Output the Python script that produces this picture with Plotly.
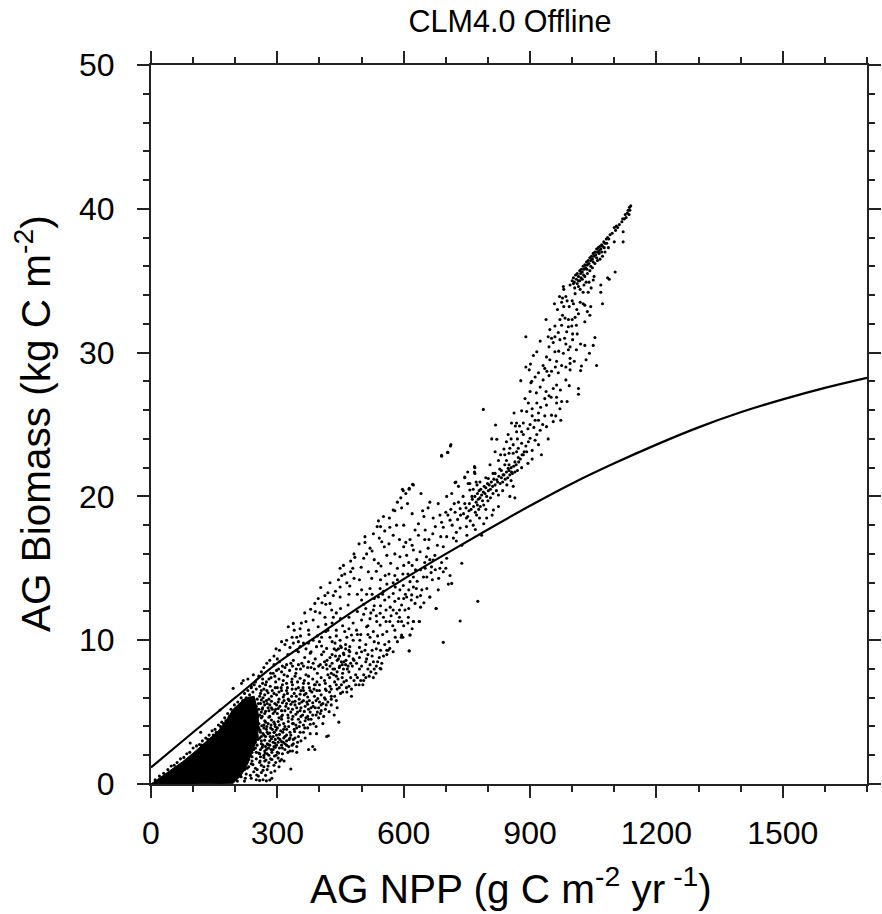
import plotly.graph_objects as go

title_text = "CLM4.0 Offline"
x_title = "AG NPP (g C m<sup>-2</sup> yr<sup> -1</sup>)"
y_title = "AG Biomass (kg C m<sup>-2</sup>)"
x_ticks = [0, 300, 600, 900, 1200, 1500]
y_ticks = [0, 10, 20, 30, 40, 50]

fit_npp = [0, 100, 200, 300, 400, 500, 600, 700, 800, 900, 1000, 1100, 1200, 1300, 1400, 1500, 1600, 1700]
fit_biomass = [1.15, 3.6, 6.0, 8.4, 10.4, 12.4, 14.25, 16.0, 17.7, 19.35, 20.9, 22.3, 23.6, 24.8, 25.85, 26.75, 27.55, 28.25]

# saturated (solid black) part of the cloud near the origin
core_npp = [0, 25, 50, 75, 100, 130, 160, 180, 195, 225, 245, 254, 256, 250, 240, 228, 214, 195, 100, 0]
core_biomass = [0, 0.5, 1.05, 1.55, 2.15, 2.9, 3.7, 4.5, 5.2, 6.0, 6.1, 5.0, 3.9, 3.0, 2.2, 1.3, 0.6, 0.05, 0, 0]

ridge = [(1000,35.0),(1003,35.2),(1005,34.9),(1008,35.4),(1010,35.1),(1012,35.5),(1015,35.3),(1018,35.7),(1020,35.5),(1022,35.8),(1024,35.6),(1026,36.0),(1028,35.8),(1030,36.1),(1032,35.9),(1034,36.3),(1036,36.1),(1038,36.4),(1040,36.2),(1042,36.6),(1044,36.4),(1046,36.7),(1048,36.5),(1050,36.9),(1052,36.7),(1054,37.0),(1056,36.8),(1058,37.2),(1060,37.0),(1062,37.3),(1064,37.1),(1066,37.4),(1068,37.2),(1070,37.5),(1072,37.4),(1075,37.7),(1078,37.6),(1081,37.9),(1084,38.0),(1087,37.9),(1090,38.2),(1095,38.3),(1100,38.7),(1103,38.5),(1105,38.8),(1108,38.7),(1112,38.9),(1118,39.1),(1120,39.3),(1124,39.3),(1126,39.6),(1128,39.4),(1131,39.7),(1133,39.9),(1136,40.1),(1139,40.2),(1137,39.9),(1135,39.6)]

ridge_below = [(1006,34.5),(1012,34.8),(1018,35.0),(1024,35.1),(1030,35.3),(1036,35.5),(1042,35.7),(1048,35.9),(1054,36.2),(1060,36.4),(1066,36.5),(1072,36.7),(1078,37.0),(1086,37.3),(1100,37.7),(1121,37.7),(1121,38.4),(1102,35.6),(1084,35.2),(1088,35.1),(1045,34.5),(1040,34.9),(1052,35.3),(1028,34.7),(1033,34.9),(1015,35.0),(1021,35.2),(1027,35.4),(1035,35.8),(1044,36.0),(1050,36.3),(1058,36.6),(1064,36.9),(1070,37.0),(1076,37.3),(1082,37.6)]

tail = [(979,34.6),(980,34.4),(995,34.7),(1003,34.8),(1015,34.6),(1019,34.4),(1026,34.2),(1038,34.2),(1050,35.05),(1068,34.7),(1068,34.2),(1072,33.4),(977,33.8),(975,33.5),(985,33.9),(958,33.4),(965,33.0),(980,33.2),(993,33.2),(1011,33.0),(1019,33.5),(1026,33.4),(1030,33.3),(1044,33.2),(1036,32.85),(1042,32.6),(977,32.6),(983,32.4),(971,32.3),(991,32.3),(1007,32.45),(938,32.3),(1030,32.15),(999,31.85),(991,31.8),(959,31.85),(947,31.6),(967,31.4),(987,31.45),(1001,31.3),(1012,31.3),(943,31.1),(951,31.0),(959,31.1),(971,30.9),(890,31.1),(924,30.8),(1001,30.9),(1054,31.05),(1020,30.6),(1030,30.5),(1050,30.5),(995,30.4),(991,30.2),(916,30.06),(908,29.8),(959,30.06),(979,29.95),(1041,29.95),(939,29.7),(947,29.5),(963,29.4),(1033,29.5),(995,29.6),(890,29.0),(901,29.2),(931,29.1),(975,29.1),(995,29.25),(1058,29.1),(1022,29.07),(898,28.8),(920,28.6),(935,28.9),(951,28.7),(995,28.8),(1020,28.75),(878,28.05),(904,28.0),(931,28.1),(963,27.75),(993,27.7),(1015,27.5),(1015,27.1),(900,27.3),(924,27.6),(938,27.3),(955,27.5),(888,26.8),(935,26.8),(963,26.9),(988,26.6),(896,26.5),(916,26.5),(939,26.35),(963,26.5),(971,26.1),(789,26.05),(880,25.95),(862,25.8),(892,25.9),(920,25.8),(951,25.65),(961,25.6),(884,25.1),(856,25.1),(868,25.1),(920,25.3),(973,25.3),(818,24.97),(909,24.8),(924,24.6),(939,24.85),(809,24.0),(821,23.97),(848,24.3),(868,24.5),(884,24.3),(916,24.3),(943,24.0),(900,24.04),(844,23.8),(860,23.6),(880,23.7),(896,23.8),(920,23.6),(852,23.35),(872,23.35),(892,23.1),(927,22.9),(711,23.5),(705,23.06),(690,22.85),(817,23.1),(840,22.9),(860,23.0),(884,22.9),(825,22.5),(844,22.5),(864,22.4),(880,22.0),(768,22.07),(768,21.7),(752,21.7),(805,22.2),(832,21.8),(848,21.95),(817,21.6),(836,21.5),(856,21.7),(745,21.3),(781,21.0),(801,21.25),(821,21.15),(722,20.96),(730,20.7),(757,20.9),(623,20.8),(613,20.56),(597,20.5),
(902,27.9),(912,28.3),(945,28.4),(967,28.6),(985,29.0),(1005,29.4),(912,25.3),(935,25.6),(905,26.1),(925,26.2),(950,26.9),(972,27.4),(985,28.1),(945,30.4),(968,30.1),(982,31.0),(1010,31.9),(1000,33.6),(1007,34.1),(870,24.0),(905,23.2),(875,24.9),(895,24.7),(912,23.9),(838,23.3),(830,22.9),(850,22.2),(872,22.7),(895,22.3),
(970,33.9),(988,33.6),(1003,33.4),(1015,32.7),(1000,32.3),(975,31.9),(955,30.7),(985,30.6),(1010,30.2),(940,28.7),(960,29.0),(915,27.2),(945,27.0),(975,26.6),(905,25.6),(930,25.0),(955,25.2),(865,24.9),(880,24.5),(900,25.0),(855,24.0),(890,23.5),(868,23.1),(905,22.6),(850,23.0)]

band_800 = [(742,18.8),(748,19.2),(752,18.6),(756,19.5),(760,19.1),(763,19.8),(766,19.3),(769,20.0),(772,19.6),(775,20.2),(777,19.8),(779,20.4),(781,19.9),(783,20.5),(785,20.1),(787,19.7),(789,20.3),(791,20.7),(793,20.2),(795,20.6),(797,20.0),(799,20.9),(801,20.4),(803,20.8),(806,20.5),(808,21.0),(811,20.7),(814,21.2),(817,20.8),(820,20.4),(823,21.0),(826,21.4),(829,20.9),(832,21.3),(835,21.0),(838,21.5),(841,21.2),(844,21.7),(847,21.3),(850,21.8),(852,21.5),(855,22.0),(858,21.6),(861,22.1),(864,21.7),(867,22.2),(870,21.8),(873,22.4),(877,22.6),(881,22.9),(886,23.1),(770,18.9),(778,19.1),(790,19.4),(758,18.3),(780,18.5),(800,19.7),
(765,20.5),(774,20.8),(782,19.3),(795,19.1),(806,19.9),(812,20.2),(825,20.1),(835,20.4),(845,20.8),(855,21.1),(860,20.7),(840,22.2),(828,21.9),(812,21.6),(795,21.3),(772,21.0)]

above_line = [(712,23.6),(704,23.06),(690,22.8),(621,20.84),(613,20.5),(599,20.4),(605,20.2),(593,19.9),(585,19.6),(609,19.5),(595,19.2),(575,19.05),(579,19.0),(641,20.2),(552,18.6),(566,18.5),(540,18.3),(537,17.9),(545,17.9),(567,17.85),(583,18.0),(528,17.4),(542,17.1),(548,16.85),(565,16.7),(554,16.5),(508,17.2),(494,16.7),(508,16.8),(520,16.4),(512,16.0),(482,16.0),(484,15.76),(474,15.5),(540,15.35),(546,15.16),(569,15.35),(579,16.0),(591,15.8),(449,15.0),(457,15.2),(479,15.0),(499,15.07),(516,14.76),(474,14.76),(453,14.5),(482,14.3),(524,14.3),(556,14.5),(579,14.5),(403,13.67),(425,14.0),(445,14.2),(449,13.7),(472,13.77),(500,13.5),(520,13.6),(544,13.6),(397,12.9),(413,13.1),(433,13.1),(449,13.0),(468,12.45),(500,12.8),(389,12.56),(379,12.15),(401,11.9),(425,12.56),(429,12.1),(450,12.2),(338,11.17),(326,10.94),(368,11.3),(385,11.4),(413,11.6),(433,11.6),(397,10.94),(354,10.8),(374,10.7),(322,10.0),(346,10.2),(310,9.9),
(627,17.66),(635,18.1),(651,17.66),(635,17.3),(669,17.4),(648,18.6),(662,19.6),(658,19.2),(682,19.5),(702,20.0),(714,20.2),(724,21.0),(745,21.35),(753,20.9),(769,22.0),(769,21.6),(670,18.5),(686,18.7),(694,17.85),(710,18.35),(722,18.9),(734,19.15),(745,19.5),(757,20.45),(734,17.8),(749,17.9),(773,18.7),(797,18.5),(702,17.2),(718,17.1),(738,16.6),(785,17.3),(813,19.05),(852,20.0),(864,19.9),(749,18.5),
(715,18.0),(728,18.4),(741,20.0),(762,20.0),(730,19.6),(700,18.9),(725,17.5),(765,18.0),(688,17.2),(600,16.5),(615,17.0),(590,17.0),(612,15.4),(660,17.0),(680,16.6),(530,15.6),(560,15.9),(495,14.2),(535,14.8),(465,14.0),(438,13.4),(415,12.5),(365,11.9),(440,11.9),(490,13.2),(512,13.2),(350,9.9),(335,10.2),(305,9.3),(292,8.9),(275,8.4),(262,7.8),(248,7.1),(238,6.8),
(93,2.85),(118,3.6),(164,5.15),(195,6.65),(219,7.2),(215,7.0),(243,7.6),(230,7.3),(256,7.5),(268,8.1),(282,8.6),(297,9.4),(318,9.7),(340,10.7),(357,11.2),(390,12.0),(406,12.6),(420,13.3),(460,14.6),(470,13.2),(505,15.7),(525,16.2),(555,17.6),(575,17.3),(600,18.0),(620,18.8),(645,19.0),
(690,18.2),(705,18.7),(735,18.7),(755,19.0),(775,19.4),(720,19.5),(675,17.9),(650,17.0),(620,16.6),(605,16.8),(725,16.9),(750,17.3),(770,17.7),(790,18.1),(810,18.7),(825,19.3),(712,19.1)]

near_line = [(623,16.27),(639,16.15),(658,16.4),(674,15.9),(694,16.5),(702,15.7),(607,15.9),(631,15.6),(654,15.8),(670,15.57),(686,15.0),(651,15.0),(666,15.1),(694,14.76),(710,14.5),(714,13.95),(706,13.9),(738,15.35),(682,13.5),(662,13.0),(677,12.2),(623,14.4),(647,14.4),(615,14.07),(599,13.8),(623,13.7),(643,13.5),(619,13.15),(627,12.56),(607,13.0),(591,13.5),(575,13.25),(579,12.7),(595,12.45),(603,12.1),(575,12.1),(583,11.87),(623,11.3),(637,11.3),(611,11.6),(587,11.3),(567,11.3),(560,10.6),(594,10.2),(615,10.36),(579,10.7),(567,9.43),(613,9.27),(694,9.85),(734,11.33),(776,12.7),
(544,11.87),(528,12.1),(552,11.6),(536,11.3),(520,11.5),(544,11.05),(512,10.94),(528,10.6),(488,10.7),(476,10.36),(496,10.0),(465,10.2),(449,10.0),(425,10.2),(437,9.8),(472,9.55),(520,10.2),(540,9.8),(560,9.3),(508,9.3),(488,9.1),(457,9.1),(417,9.43),(393,9.55),(354,9.55),(374,9.8),
(640,14.9),(610,14.6),(585,14.2),(560,13.9),(540,13.0),(555,12.8),(530,12.4),(510,12.2),(490,12.0),(470,11.6),(455,11.0),(480,11.2),(500,11.4),(440,10.7),(415,10.6),(395,10.3),(375,10.4),(355,10.3),(600,15.2),(585,15.0),(565,14.6),(545,14.2),(525,13.2),(505,12.5),(630,13.6),(655,14.4),(600,12.9),(610,11.2),(590,12.1),(570,11.7),(550,10.4),(530,9.9),(510,9.7),(600,11.0),(632,13.0),(648,12.6),
(662,15.6),(675,14.9),(690,15.4),(700,15.0),(668,14.2),(655,13.6),(640,12.3),(628,14.9),(612,13.5),(598,14.6),(580,13.7),(565,13.0),(552,13.4),(568,12.3),(588,12.9),(612,12.2),(574,11.0),(558,11.3),(538,10.3),(515,11.0),(498,10.4),(505,11.8),(522,11.9),(545,12.4),(480,10.0),(462,9.7),(445,9.4),(430,9.9),(410,9.2),(400,9.9),(385,10.0),(368,9.4),(345,9.3),(330,9.5),(430,11.2),(450,11.5),(470,10.8),(415,11.1),(405,10.2),
(632,14.1),(604,13.2),(618,12.8),(590,11.6),(558,12.1),(535,11.7),(515,10.4),(490,10.4),(460,10.6),(440,10.3),(420,10.7),(435,9.4),(405,9.6),(380,9.2),(362,9.8),(338,9.8),(595,11.3),(580,10.2),(555,9.7),(535,9.4),(515,9.0),(495,9.5),(470,9.3),(450,9.6),(620,10.8),(640,13.1),(665,14.7),(683,14.3),(650,15.4),(620,15.2),(575,14.0),(550,13.2),(530,12.9)]

lower_edge = [(613,9.25),(677,12.2),(662,13.0),(637,11.3),(623,11.3),(615,10.36),(598,10.2),(595,10.36),(563,9.3),(544,8.05),(528,7.4),(503,6.9),(476,6.1),(446,4.3),(435,4.8),(423,5.03),(417,3.3),(421,3.36),(393,3.5),(389,2.4),(374,2.4),(384,2.6),(346,2.2),(330,2.3),(306,1.6),(322,2.7),(297,2.0),(332,1.04),(287,0.4),(251,0.63),(273,1.67)]

mid_band = [(300,8.7),(312,8.2),(325,9.0),(338,8.6),(350,9.2),(365,8.8),(378,9.1),(390,8.7),(405,9.0),(418,8.6),(430,9.0),(445,8.7),(458,8.5),(470,8.9),(482,8.6),(495,8.8),(510,8.5),(525,8.9),(538,8.5),(552,8.9),
(290,7.7),(303,8.0),(316,7.6),(329,7.9),(342,7.5),(355,8.0),(368,7.6),(380,8.1),(395,7.7),(408,8.1),(420,7.6),(432,8.0),(440,7.5),(448,8.2),(455,7.7),(462,8.3),(470,7.8),(478,8.2),(486,7.6),(495,8.0),(505,7.6),(515,8.0),(530,8.0),(280,7.3),
(283,6.8),(296,7.1),(309,6.7),(322,7.0),(335,6.6),(348,7.1),(361,6.7),(374,7.0),(387,6.6),(400,6.9),(412,7.2),(425,6.8),(436,7.1),(447,6.7),(458,7.1),(470,6.8),(482,7.2),(494,6.9),
(270,6.2),(280,5.9),(292,6.3),(304,5.9),(316,6.2),(328,5.8),(340,6.3),(352,5.9),(364,6.2),(376,5.8),(388,6.1),(400,5.7),(412,6.0),(424,6.4),(436,6.1),(450,6.3),(465,6.4),
(265,5.3),(276,5.6),(288,5.2),(298,5.5),(310,5.1),(320,5.4),(332,5.0),(342,5.5),(354,5.1),(366,5.4),(378,5.0),(390,5.3),(402,4.9),(414,5.2),(428,5.5),(442,5.3),
(262,4.6),(272,4.3),(282,4.7),(292,4.3),(304,4.6),(315,4.2),(326,4.6),(338,4.2),(350,4.5),(362,4.1),(374,4.5),(386,4.2),(398,4.6),(408,4.2),
(260,3.6),(268,3.9),(278,3.5),(288,3.8),(298,3.4),(308,3.7),(318,3.3),(330,3.6),(342,3.2),(354,3.6),(366,3.2),(378,3.5),
(252,2.7),(262,3.0),(272,2.6),(282,3.0),(292,2.6),(302,2.9),(312,2.5),(322,3.0),(335,2.7),(348,2.9),
(240,1.9),(250,2.2),(260,1.9),(270,2.3),(280,2.0),(290,2.4),(300,2.2),(312,2.1),
(228,1.1),(238,1.4),(248,1.1),(258,1.5),(268,1.2),(280,1.5),(292,1.3),(214,0.5),(226,0.7),(238,0.4),(250,0.3),(262,0.8),(272,0.6),(205,0.2),(222,0.2)]

clusters = [(430,8.4),(436,8.0),(442,8.6),(447,8.1),(452,8.5),(457,8.0),(463,8.6),(468,8.2),(474,8.4),(480,8.7),(448,8.9),(438,8.9),(458,9.0),(425,8.2),(418,8.0),(472,9.2),(462,9.4),(452,9.5),(440,9.3),
(262,6.5),(272,6.9),(285,7.4),(268,5.7),(258,6.1),(275,6.5),(288,6.5),(298,6.2),(310,6.5),(322,6.5),(335,7.3),(345,6.1),(356,6.5),(368,6.3),(378,6.5),(390,6.9),
(300,4.9),(312,4.8),(325,4.8),(337,4.7),(348,5.0),(360,4.8),(372,4.7),(384,4.8),(395,5.0),(270,4.9),(280,5.1),(290,4.9),(262,5.0),(268,3.4),(275,4.0),(285,4.1),(295,4.0),(305,4.1),(315,3.8),(327,4.0),(340,3.8),(352,4.0),(365,3.9),
(260,2.4),(268,2.0),(276,2.8),(285,2.4),(295,3.1),(305,2.5),(315,3.2),(325,2.2),(338,3.1),(262,3.3),(272,3.3),(283,3.3),(293,3.6)]

wedge_edge = [(10,0.3),(20,0.55),(30,0.75),(40,1.0),(48,1.25),(55,1.3),(62,1.5),(70,1.75),(78,1.85),(85,2.1),(92,2.2),(100,2.5),(108,2.65),(115,2.75),(122,3.0),(130,3.2),(138,3.4),(145,3.7),(152,3.8),(160,4.1),(168,4.3),(175,4.6),(182,4.9),(190,5.2),(198,5.5),(206,5.7),(214,6.0),(222,6.3),(230,6.5),(238,6.7),(245,6.9),
(120,2.7),(135,3.1),(148,3.4),(155,3.6),(165,4.0),(172,4.2),(178,4.4),(186,4.7),(193,5.0),(202,5.2),(210,5.5),(218,5.8),(226,6.0),(234,6.2),(242,6.4),(250,6.6),(258,6.8),(265,7.0)]

fringe = [(258,0.25),(266,0.3),(274,0.22),(282,0.28),(200,0.4),(212,0.55),(224,0.4),(236,0.6),(244,0.85),(255,0.55),(266,0.95),(276,1.0),(285,0.8),(294,0.9),
(222,1.0),(232,1.2),(242,1.35),(252,1.0),(262,1.3),(270,1.6),(278,1.25),(287,1.7),(296,1.5),(304,1.2),(310,1.7),(232,1.7),(240,1.6),(250,1.75),(259,1.6),(268,1.85),(276,2.1),(284,1.75),(293,1.95),(302,1.8),(316,1.6),
(240,2.2),(248,2.5),(256,2.15),(264,2.55),(271,2.15),(279,2.5),(287,2.2),(295,2.55),(303,2.15),(310,2.7),(318,2.4),(327,2.6),(336,2.3),(246,2.85),(254,3.1),(262,2.8),(270,3.05),(278,2.75),(286,3.15),(294,2.85),(302,3.2),(310,2.95),(318,2.8),(328,3.1),(338,2.8),(346,2.6),(356,3.0),
(252,3.4),(259,3.75),(266,3.5),(274,3.8),(282,3.55),(290,3.3),(297,3.75),(305,3.45),(313,3.6),(322,3.8),(332,3.4),(341,3.65),(350,3.3),(362,3.6),(372,3.9),
(256,4.2),(263,4.05),(270,4.4),(278,4.2),(286,4.45),(294,4.15),(302,4.35),(310,4.5),(318,4.0),(326,4.35),(335,4.5),(344,4.1),(354,4.3),(366,4.4),(378,4.15),(392,4.0),
(258,4.8),(264,5.2),(272,5.05),(280,4.65),(286,5.3),(294,5.05),(302,5.25),(310,4.7),(318,5.1),(326,5.25),(336,5.2),(344,4.85),(356,5.3),(364,5.05),(374,5.2),(385,5.4),(398,5.3),(410,4.7),
(255,5.6),(262,5.85),(270,5.5),(278,5.3),(286,5.75),(294,5.6),(302,5.7),(312,5.65),(322,5.6),(332,5.55),(342,5.75),(352,5.6),(362,5.8),(372,5.55),(384,5.65),(396,5.95),(408,5.6),(420,5.7),
(260,6.3),(268,6.6),(278,6.35),(286,6.1),(295,6.7),(304,6.4),(314,6.05),(324,6.3),(334,6.1),(344,6.6),(354,6.25),(362,6.5),(372,6.05),(382,6.4),(394,6.5),(404,6.2),(416,6.5),(428,6.1),(442,6.6),(455,6.4),
(265,7.3),(274,7.1),(284,7.7),(294,7.5),(304,7.3),(314,7.2),(324,7.5),(334,7.1),(344,7.7),(354,7.35),(364,7.2),(374,7.5),(384,7.3),(394,7.1),(404,7.4),(414,7.0),(424,7.4),(434,7.6),(444,7.3),(454,7.4),(464,7.2),(474,7.4),(490,7.4),(505,7.2),(518,7.5),
(292,8.3),(305,8.5),(318,8.1),(332,8.4),(345,8.0),(358,8.4),(372,8.1),(385,8.4),(398,8.2),(412,8.5),(425,8.8),(520,8.3),(535,8.2),(548,8.4),(560,9.0),(575,9.2),(585,9.9),(565,9.9),(545,9.3),(525,9.3),(500,9.2)]

dense_fill = [(250,5.4),(254,4.7),(256,3.9),(252,3.3),(248,2.9),(244,2.4),(236,2.0),(228,1.5),(220,1.0),(214,0.9),(206,0.6),(252,5.9),(256,5.2),(250,4.4),(258,3.2),(246,3.6),(264,4.7),(260,5.6),(266,6.0),(274,5.8),(282,5.5),(268,4.1),(276,3.6),(284,3.9),(292,3.6),(300,3.9),(258,2.1),(266,2.7),(274,2.4),(282,2.7),(290,2.9),(298,2.7),(306,3.1),(314,2.9),(322,3.4),(330,3.2),
(336,4.2),(346,3.9),(356,4.7),(368,4.6),(380,4.5),(392,4.8),(404,5.1),(416,5.5),(428,5.9),(440,5.8),(296,5.2),(306,5.4),(316,5.8),(326,5.9),(336,5.7),(346,5.3),(358,5.7),(370,5.7),(380,5.3),(392,5.8),(404,5.5),(414,5.9),
(300,6.7),(312,6.9),(324,6.7),(336,6.9),(350,6.7),(362,7.0),(376,6.7),(388,6.9),(400,6.5),(414,6.6),(428,6.6),(440,6.9),(452,6.9),(464,6.7),(476,6.6),(486,6.9),(498,7.2),(510,7.4),(522,7.8),(534,7.7),(546,8.0),
(298,7.9),(310,7.8),(322,8.3),(336,8.2),(350,8.3),(362,8.2),(374,8.5),(388,8.0),(402,8.3),(416,8.3),(428,7.7),(442,7.8),(454,8.3),(466,8.0),(488,8.4),(500,8.2),(512,8.7),(528,8.5),(542,8.8)]

sets = [ridge, ridge_below, tail, band_800, above_line, near_line, lower_edge, mid_band, clusters, wedge_edge, fringe, dense_fill]
scatter_npp = [p[0] for s in sets for p in s]
scatter_biomass = [p[1] for s in sets for p in s]

FONT = "Liberation Sans, Arial, sans-serif"

fig = go.Figure()
fig.add_trace(go.Scatter(x=core_npp, y=core_biomass, mode="lines", fill="toself",
                         fillcolor="black", line=dict(color="black", width=1), hoverinfo="skip"))
fig.add_trace(go.Scatter(x=scatter_npp, y=scatter_biomass, mode="markers",
                         marker=dict(color="black", size=3.1, line=dict(width=0))))
fig.add_trace(go.Scatter(x=fit_npp, y=fit_biomass, mode="lines",
                         line=dict(color="black", width=2.2, shape="spline")))

axis_common = dict(showgrid=False, zeroline=False, showline=True, linecolor="#222", linewidth=2,
                   mirror="ticks", ticks="outside", tickcolor="#222", tickwidth=2, ticklen=12,
                   automargin=False, tickfont=dict(family=FONT, size=32, color="black"))
fig.update_xaxes(range=[0, 1700], tickvals=x_ticks, ticktext=[str(v) for v in x_ticks], ticklabelstandoff=8,
                 minor=dict(ticks="outside", ticklen=6, tickwidth=1.5, tickcolor="#222", dtick=100, tick0=0),
                 **axis_common)
fig.update_yaxes(range=[0, 50], tickvals=y_ticks, ticktext=[str(v) for v in y_ticks], ticklabelstandoff=16,
                 minor=dict(ticks="outside", ticklen=6, tickwidth=1.5, tickcolor="#222", dtick=2, tick0=0),
                 **axis_common)
fig.add_annotation(text=x_title, xref="paper", yref="paper", x=(511-151)/716, y=(784-886)/719,
                   showarrow=False, font=dict(family=FONT, size=40.5, color="black"), xanchor="center", yanchor="middle")
fig.add_annotation(text=y_title, xref="paper", yref="paper", x=(33-151)/716, y=(784-424)/719, textangle=-90,
                   showarrow=False, font=dict(family=FONT, size=40.5, color="black"), xanchor="center", yanchor="middle")
fig.update_layout(width=882, height=914, autosize=False, showlegend=False,
                  margin=dict(l=151, r=15, t=65, b=130),
                  plot_bgcolor="white", paper_bgcolor="white",
                  title=dict(text=title_text, font=dict(family=FONT, size=30.5, color="black"),
                             x=510/882, xanchor="center", y=1-21/914, yanchor="middle"))
fig.write_html("out.html", config={"displayModeBar": False},
               post_script="document.body.style.margin='0';document.documentElement.style.overflow='hidden';")
